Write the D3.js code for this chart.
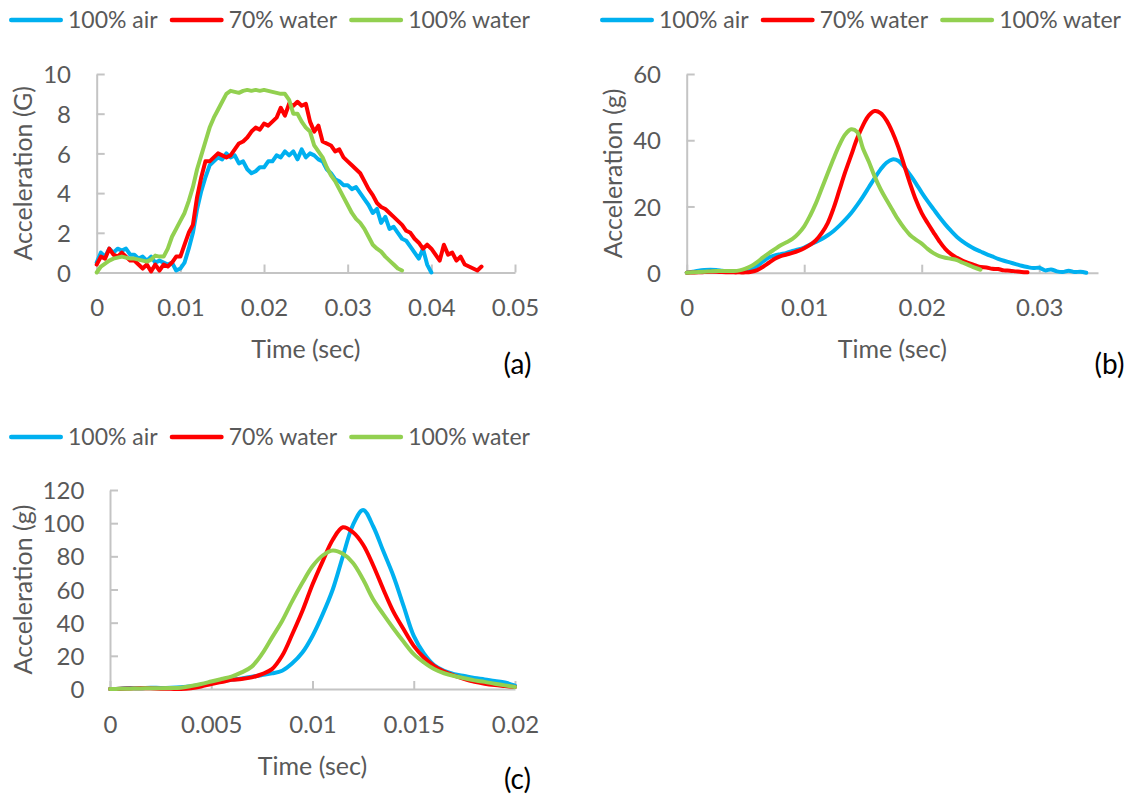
<!DOCTYPE html>
<html><head><meta charset="utf-8">
<script src="https://cdn.jsdelivr.net/npm/d3@7"></script>
<style>
body{margin:0;background:#fff;}
svg text{font-family:Lato,"Open Sans",sans-serif;}
</style>
</head><body>
<svg id="chart" width="1135" height="799"></svg>
<script>
// ---------- shared ----------
const seriesNames = ["100% air", "70% water", "100% water"];
const seriesColors = ["#00b0f0", "#ff0000", "#92d050"];

// ---------- panel (a) ----------
const tA = [0,0.0005,0.001,0.0015,0.002,0.0025,0.003,0.0035,0.004,0.0045,0.005,0.0055,0.006,0.0065,0.007,0.0075,0.008,0.0085,0.009,0.0095,
  0.010,0.0105,0.011,0.0115,0.012,0.0125,0.013,0.0135,0.014,0.0145,0.015,0.0155,0.016,0.0165,0.017,0.0175,0.018,0.0185,0.019,0.0195,
  0.020,0.0205,0.021,0.0215,0.022,0.0225,0.023,0.0235,0.024,0.0245,0.025,0.0255,0.026,0.0265,0.027,0.0275,0.028,0.0285,0.029,0.0295,
  0.030,0.0305,0.031,0.0315,0.032,0.0325,0.033,0.0335,0.034,0.0345,0.035,0.0355,0.036,0.0365,0.037,0.0375,0.038,0.0385,0.039,0.0395,
  0.040,0.0405,0.041,0.0415,0.042,0.0425,0.043,0.0435,0.044,0.0445,0.045,0.0455,0.046];
const aAir = [0.5,1.0,0.8,1.2,1.0,1.2,1.1,1.2,0.9,0.9,0.7,0.8,0.6,0.8,0.5,0.6,0.5,0.4,0.5,0.1,
  0.2,0.5,1.2,2.0,3.2,4.1,4.8,5.4,5.6,5.8,5.7,6.0,5.8,5.9,5.5,5.6,5.2,5.0,5.1,5.3,
  5.3,5.6,5.6,5.9,5.8,6.1,5.9,6.1,5.7,6.2,5.8,6.0,5.9,5.7,5.6,5.2,5.0,4.7,4.6,4.4,
  4.4,4.2,4.3,4.0,3.7,3.4,3.0,3.2,2.5,2.8,2.2,2.3,2.0,1.7,1.6,1.3,1.0,0.7,1.2,0.4,
  0.0];
const a70 = [0.4,0.8,0.7,1.2,0.9,0.8,1.0,0.8,0.6,0.6,0.4,0.2,0.4,0.05,0.4,0.1,0.4,0.3,0.5,0.8,
  0.8,1.4,2.0,2.4,3.8,4.8,5.6,5.6,5.8,6.0,5.9,5.8,5.9,6.2,6.5,6.6,6.8,7.1,7.3,7.2,
  7.5,7.4,7.6,7.8,8.3,7.9,8.5,8.4,8.6,8.4,8.5,7.6,7.1,7.4,6.6,6.5,6.4,6.1,6.2,5.8,
  5.6,5.4,5.2,5.0,4.6,4.2,3.9,3.5,3.3,3.2,3.0,2.8,2.6,2.4,2.1,2.0,1.7,1.5,1.2,1.4,
  1.2,0.9,0.6,1.4,0.9,1.0,0.6,0.8,0.4,0.3,0.2,0.1,0.3];
const a100 = [0,0.3,0.45,0.6,0.7,0.75,0.8,0.75,0.7,0.7,0.65,0.6,0.55,0.65,0.85,0.8,0.8,1.2,1.8,2.2,
  2.6,3.0,3.6,4.3,5.2,5.9,6.6,7.3,7.8,8.2,8.6,9.0,9.15,9.1,9.05,9.15,9.2,9.15,9.2,9.15,
  9.2,9.15,9.1,9.05,9.0,9.0,8.7,8.0,8.0,7.6,7.3,7.1,6.4,6.1,5.8,5.3,4.9,4.6,4.2,3.8,
  3.4,3.0,2.7,2.5,2.2,1.8,1.4,1.2,1.05,0.8,0.6,0.4,0.2,0.1];
const xTicksA = [0,0.01,0.02,0.03,0.04,0.05];
const xLabelsA = ["0","0.01","0.02","0.03","0.04","0.05"];
const yTicksA = [0,2,4,6,8,10];

// ---------- panel (b) ----------
const tB = [0,0.0005,0.001,0.0015,0.002,0.0025,0.003,0.0035,0.004,0.0045,0.005,0.0055,0.006,0.0065,0.007,0.0075,0.008,0.0085,0.009,0.0095,
  0.010,0.0105,0.011,0.0115,0.012,0.0125,0.013,0.0135,0.014,0.0145,0.015,0.0155,0.016,0.0165,0.017,0.0175,0.018,0.0185,0.019,0.0195,
  0.020,0.0205,0.021,0.0215,0.022,0.0225,0.023,0.0235,0.024,0.0245,0.025,0.0255,0.026,0.0265,0.027,0.0275,0.028,0.0285,0.029,0.0295,
  0.030,0.0305,0.031,0.0315,0.032,0.0325,0.033,0.0335,0.034];
const bAir = [0,0.3,0.6,0.8,0.9,0.8,0.6,0.4,0.3,0.4,0.6,1.0,2.0,3.4,4.6,5.2,5.6,6.0,6.6,7.0,
  7.6,8.5,9.3,10.2,11.3,12.6,14.2,16.0,18.0,20.4,23.0,25.8,28.6,31.2,33.2,34.2,33.8,32.0,29.6,27.0,
  24.2,21.6,19.2,16.8,14.6,12.6,10.8,9.4,8.2,7.2,6.4,5.6,4.9,4.2,3.6,3.1,2.6,2.1,1.7,1.4,
  1.5,0.7,1.0,0.4,0.2,0.6,0.2,0.3,0.0];
const b70 = [0,0.05,0.1,0.2,0.3,0.3,0.2,0.15,0.1,0.1,0.1,0.3,0.8,1.8,3.0,4.2,5.0,5.5,6.0,6.6,
  7.4,8.4,9.8,12.0,15.0,19.5,25.0,30.5,35.5,40.5,44.5,47.5,48.8,48.2,46.0,42.5,38.0,32.5,27.0,22.0,
  18.0,15.0,12.2,9.5,7.2,5.6,4.5,3.6,2.9,2.3,1.7,1.6,1.2,1.1,0.7,0.6,0.4,0.2,0.1];
const b100 = [0,0.1,0.2,0.3,0.4,0.5,0.5,0.5,0.5,0.7,1.2,2.0,3.2,4.6,5.9,7.1,8.3,9.2,10.2,11.8,
  14.0,17.2,21.0,25.5,30.0,34.5,38.6,41.8,43.3,42.5,37.5,33.5,29.0,25.2,22.0,19.0,16.0,13.5,11.4,10.0,
  8.8,7.2,5.9,5.0,4.5,4.2,3.8,3.0,2.3,1.5,0.9];
const xTicksB = [0,0.01,0.02,0.03];
const xLabelsB = ["0","0.01","0.02","0.03"];
const yTicksB = [0,20,40,60];

// ---------- panel (c) ----------
const tC = [0,0.0005,0.001,0.0015,0.002,0.0025,0.003,0.0035,0.004,0.0045,0.005,0.0055,0.006,0.0065,0.007,0.0075,0.008,0.0085,0.009,0.0095,
  0.010,0.0105,0.011,0.0115,0.012,0.0125,0.013,0.0135,0.014,0.0145,0.015,0.0155,0.016,0.0165,0.017,0.0175,0.018,0.0185,0.019,0.0195,0.020];
const cAir = [0,0.2,0.6,0.4,0.8,0.6,0.7,1.0,1.6,2.6,3.8,4.8,5.6,6.4,7.4,8.4,9.4,11.0,15.5,22.0,
  32.0,45.0,60.0,80.0,99.0,108.0,98.0,83.0,68.0,50.0,32.0,21.5,14.5,11.0,9.0,7.8,6.6,5.8,4.8,4.0,2.0];
const c70 = [0,0.1,0.3,0.5,0.4,0.2,0.1,0,0.5,1.5,3.0,4.2,5.5,6.0,7.0,9.0,12.0,20.0,33.0,47.0,
  63.0,77.0,90.0,97.5,94.5,87.0,74.5,60.0,46.5,36.0,26.0,19.0,14.0,10.5,8.0,6.0,4.3,3.2,2.4,1.8,1.2];
const c100 = [0,0.1,0.2,0.3,0.5,0.5,0.6,0.8,1.8,3.0,4.5,6.0,7.5,10.0,13.5,21.0,31.0,41.0,53.0,64.0,
  74.0,80.5,83.5,81.5,76.0,66.0,54.0,45.0,36.5,28.5,21.0,16.0,12.0,9.5,7.8,6.5,5.2,4.3,3.2,2.2,1.2];
const xTicksC = [0,0.005,0.01,0.015,0.02];
const xLabelsC = ["0","0.005","0.01","0.015","0.02"];
const yTicksC = [0,20,40,60,80,100,120];

// ---------- layout ----------
const panels = [
  {x0:96.7, x1:515, yB:272.5, yT:74, xMax:0.05, yMax:10, t:tA, vals:[aAir,a70,a100],
   xTicks:xTicksA, xLabels:xLabelsA, yTicks:yTicksA, yTitle:"Acceleration (G)", tag:"(a)",
   tagX:517.5, tagY:364, legX:9, legY:20, yTitleX:22.7, xTitleY:349, curve:d3.curveLinear},
  {x0:686.7, x1:1098, yB:272.7, yT:74, xMax:0.035, yMax:60, t:tB, vals:[bAir,b70,b100],
   xTicks:xTicksB, xLabels:xLabelsB, yTicks:yTicksB, yTitle:"Acceleration (g)", tag:"(b)",
   tagX:1109.5, tagY:364, legX:600, legY:20, yTitleX:612.7, xTitleY:349, curve:d3.curveCatmullRom.alpha(0.5)},
  {x0:110, x1:515, yB:689, yT:490, xMax:0.02, yMax:120, t:tC, vals:[cAir,c70,c100],
   xTicks:xTicksC, xLabels:xLabelsC, yTicks:yTicksC, yTitle:"Acceleration (g)", tag:"(c)",
   tagX:517.5, tagY:779, legX:9, legY:437, yTitleX:22.7, xTitleY:766, curve:d3.curveCatmullRom.alpha(0.5)}
];

const svg = d3.select("#chart");
const FS_TICK = 24, FS_TITLE = 25, FS_LEG = 23, FS_TAG = 28;
const gray = "#595959";
const axisCol = "#c4c4c4";

panels.forEach(p => {
  const x = d3.scaleLinear().domain([0, p.xMax]).range([p.x0, p.x1]);
  const y = d3.scaleLinear().domain([0, p.yMax]).range([p.yB, p.yT]);
  const g = svg.append("g");

  // y axis
  const ya = g.append("g").attr("transform", `translate(${p.x0},0)`)
    .call(d3.axisLeft(y).tickValues(p.yTicks).tickSizeInner(-8).tickSizeOuter(0).tickPadding(25.7));
  ya.select(".domain").attr("stroke", axisCol).attr("stroke-width", 2);
  ya.selectAll(".tick line").attr("stroke", axisCol).attr("stroke-width", 2);
  ya.selectAll(".tick text").attr("fill", gray).attr("font-size", FS_TICK).attr("dy", "0.36em")
    .style("font-family", "Lato");

  // x axis
  const xa = g.append("g").attr("transform", `translate(0,${p.yB})`)
    .call(d3.axisBottom(x).tickValues(p.xTicks).tickFormat((d, i) => p.xLabels[i])
      .tickSizeInner(-8).tickSizeOuter(0));
  xa.select(".domain").attr("stroke", axisCol).attr("stroke-width", 2);
  xa.selectAll(".tick line").attr("stroke", axisCol).attr("stroke-width", 2);
  xa.selectAll(".tick text").attr("fill", gray).attr("font-size", FS_TICK)
    .attr("y", 35).attr("dy", "0.36em").style("font-family", "Lato");

  // series
  const line = d3.line().x((d, i) => x(p.t[i])).y(d => y(d)).curve(p.curve);
  p.vals.forEach((v, k) => {
    g.append("path").datum(v).attr("d", line).attr("fill", "none")
      .attr("stroke", seriesColors[k]).attr("stroke-width", 4)
      .attr("stroke-linejoin", "round").attr("stroke-linecap", "round");
  });

  // axis titles
  g.append("text").attr("x", (p.x0 + p.x1) / 2).attr("y", p.xTitleY).attr("dy", "0.36em")
    .attr("text-anchor", "middle").attr("fill", gray).attr("font-size", FS_TITLE).text("Time (sec)");
  g.append("text").attr("transform", `translate(${p.yTitleX},${(p.yB + p.yT) / 2}) rotate(-90)`)
    .attr("dy", "0.36em").attr("text-anchor", "middle").attr("fill", gray).attr("font-size", FS_TITLE)
    .text(p.yTitle);

  // panel tag
  g.append("text").attr("x", p.tagX).attr("y", p.tagY).attr("dy", "0.36em")
    .attr("text-anchor", "middle").attr("fill", "#000").attr("font-size", FS_TAG).text(p.tag);

  // legend
  let lx = p.legX;
  seriesNames.forEach((name, k) => {
    g.append("line").attr("x1", lx + 2.2).attr("x2", lx + 51.8).attr("y1", p.legY).attr("y2", p.legY)
      .attr("stroke", seriesColors[k]).attr("stroke-width", 4.4).attr("stroke-linecap", "round");
    const t = g.append("text").attr("x", lx + 59).attr("y", p.legY).attr("dy", "0.36em")
      .attr("fill", gray).attr("font-size", FS_LEG).text(name);
    lx = lx + 59 + t.node().getComputedTextLength() + 12;
  });
});
</script>
</body></html>
